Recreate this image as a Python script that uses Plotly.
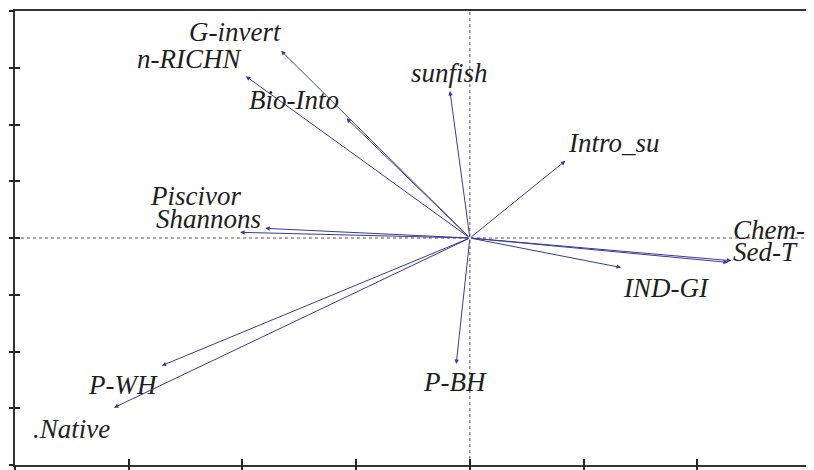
import plotly.graph_objects as go

# Biplot vectors (axis units; one tick = 1 unit)
variables = ["G-invert", "n-RICHN", "Bio-Into", "sunfish", "Intro_su", "Chem-T", "Sed-T",
             "IND-GI", "P-BH", "P-WH", ".Native", "Piscivor", "Shannons"]
axis1 = [-1.66, -1.97, -1.085, -0.175, 0.84, 2.30, 2.27, 1.33, -0.12, -2.71, -3.13, -1.80, -2.02]
axis2 = [3.30, 2.85, 2.11, 2.59, 1.36, -0.40, -0.43, -0.52, -2.22, -2.25, -2.99, 0.17, 0.10]

# label placement (pixel offsets from arrow tips) and anchors
label_dx = [-46, -56, -52, 0, 49, 0, 3, 45, -1, -39, -42, -70, -32]
label_dy = [19, 17, 18, 18, 18, 31, 10, -20, -18, -19, -21, 32, 13]
label_anchor = ["center"] * 5 + ["left", "left"] + ["center"] * 6

x_range = [-4, 3]
y_range = [-4, 4]
x_ticks = [-4, -3, -2, -1, 0, 1, 2, 3]
y_ticks = [-4, -3, -2, -1, 0, 1, 2, 3, 4]

arrow_color = "#3a3a98"
text_color = "#1e1e1e"
font_family = "'Times New Roman', 'Liberation Serif', 'DejaVu Serif', serif"

fig = go.Figure()
fig.add_trace(go.Scatter(x=[0], y=[0], mode="markers", marker=dict(opacity=0),
                         hoverinfo="skip", showlegend=False))
fig.add_trace(go.Scatter(x=[0], y=[0], mode="markers", marker=dict(opacity=0),
                         hoverinfo="skip", showlegend=False, xaxis="x2", yaxis="y2"))

annotations = []
for name, x, y, dx, dy, anc in zip(variables, axis1, axis2, label_dx, label_dy, label_anchor):
    annotations.append(dict(
        x=x, y=y, ax=0, ay=0, xref="x", yref="y", axref="x", ayref="y",
        text="", showarrow=True, arrowhead=2, arrowsize=0.9, arrowwidth=1,
        arrowcolor=arrow_color, standoff=0, startstandoff=0))
    annotations.append(dict(
        x=x, y=y, xref="x", yref="y", text="<i>" + name + "</i>", showarrow=False,
        xshift=dx, yshift=dy, xanchor=anc, yanchor="middle",
        font=dict(family=font_family, size=27, color=text_color)))

shapes = [
    dict(type="line", xref="x", yref="paper", x0=0, x1=0, y0=0, y1=1,
         line=dict(color="#555555", width=1, dash="dot"), layer="below"),
    dict(type="line", xref="paper", yref="y", x0=0, x1=1, y0=0, y1=0,
         line=dict(color="#555555", width=1, dash="dot"), layer="below"),
]

fig.update_layout(
    width=806, height=462,
    margin=dict(l=7, r=1, t=1, b=4),
    paper_bgcolor="white", plot_bgcolor="white",
    showlegend=False,
    font=dict(family=font_family),
    annotations=annotations,
    shapes=shapes,
    xaxis=dict(range=x_range, tickvals=x_ticks, showticklabels=False, showgrid=False,
               zeroline=False, ticks="inside", ticklen=6, tickcolor="#222", tickwidth=1.5,
               showline=True, linecolor="#333", linewidth=2, mirror=True),
    yaxis=dict(range=y_range, tickvals=y_ticks, showticklabels=False, showgrid=False,
               zeroline=False, ticks="inside", ticklen=5, tickcolor="#222", tickwidth=1.5,
               showline=True, linecolor="#333", linewidth=2, mirror=True),
    xaxis2=dict(range=x_range, tickvals=x_ticks, showticklabels=False, showgrid=False,
                zeroline=False, ticks="outside", ticklen=4, tickcolor="#222", tickwidth=1.5,
                overlaying="x", showline=False),
    yaxis2=dict(range=y_range, tickvals=y_ticks, showticklabels=False, showgrid=False,
                zeroline=False, ticks="outside", ticklen=5, tickcolor="#222", tickwidth=1.5,
                overlaying="y", showline=False),
)

fig.write_html("out.html")
